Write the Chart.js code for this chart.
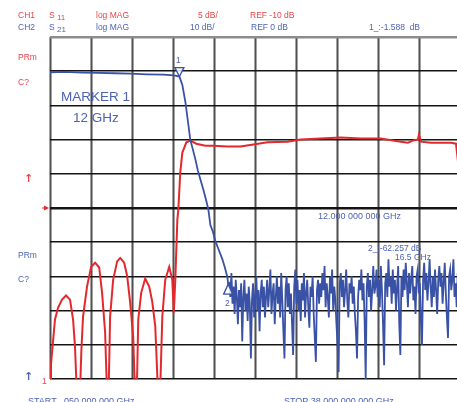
<!DOCTYPE html>
<html>
<head>
<meta charset="utf-8">
<script src="https://cdn.jsdelivr.net/npm/chart.js@4/dist/chart.umd.min.js"></script>
<style>
  html, body { margin:0; padding:0; overflow:hidden; background:#fff; }
  #wrap { position:relative; width:457px; height:402px; overflow:hidden; }
  #vna { position:absolute; left:0; top:0; }
  .t { position:absolute; font-family:"Liberation Sans", Arial, sans-serif; font-size:8.5px; line-height:10px; white-space:pre; }
  .r { color:#e8444a; }
  .b { color:#4d63b3; }
  .sub { font-size:8px; }
  .big { font-size:13.5px; line-height:16px; }
  .arr { font-family:"DejaVu Sans", sans-serif; font-size:11px; line-height:12px; font-weight:bold; }
</style>
</head>
<body>
<div id="wrap">
  <canvas id="vna" width="470" height="402"></canvas>

  <!-- header, channel 1 -->
  <span class="t r" style="left:18px;top:10px">CH1</span>
  <span class="t r" style="left:49px;top:10px">S</span>
  <span class="t r sub" style="left:57px;top:13px">11</span>
  <span class="t r" style="left:96px;top:10px">log MAG</span>
  <span class="t r" style="left:198px;top:10px">5 dB/</span>
  <span class="t r" style="left:250px;top:10px">REF -10 dB</span>
  <!-- header, channel 2 -->
  <span class="t b" style="left:18px;top:22px">CH2</span>
  <span class="t b" style="left:49px;top:22px">S</span>
  <span class="t b sub" style="left:57px;top:25px">21</span>
  <span class="t b" style="left:96px;top:22px">log MAG</span>
  <span class="t b" style="left:190px;top:22px">10 dB/</span>
  <span class="t b" style="left:251px;top:22px">REF 0 dB</span>
  <span class="t b" style="left:369px;top:22px">1_:-1.588  dB</span>

  <!-- left side -->
  <span class="t r" style="left:18px;top:52px">PRm</span>
  <span class="t r" style="left:18px;top:77px">C?</span>
  <span class="t r arr" style="left:24px;top:173px">↑</span>
  <span class="t b" style="left:18px;top:250px">PRm</span>
  <span class="t b" style="left:18px;top:274px">C?</span>
  <span class="t b arr" style="left:24px;top:371px">↑</span>
  <span class="t r" style="left:42px;top:376px">1</span>

  <!-- annotations -->
  <span class="t b big" style="left:61px;top:89px">MARKER 1</span>
  <span class="t b big" style="left:73px;top:110px">12 GHz</span>
  <span class="t b" style="left:176px;top:55px">1</span>
  <span class="t b" style="left:225px;top:298px">2</span>
  <span class="t b" style="left:318px;top:211px;font-size:9px">12.000 000 000 GHz</span>
  <span class="t b" style="left:368px;top:243px">2_:-62.257 dB</span>
  <span class="t b" style="left:395px;top:252px">16.5 GHz</span>

  <!-- footer -->
  <span class="t b" style="left:28px;top:396px;font-size:9px">START  .050 000 000 GHz</span>
  <span class="t b" style="left:284px;top:396px;font-size:9px">STOP 38.000 000 000 GHz</span>
</div>

<script>
// sweep
const START_GHZ = 0.05;
const STOP_GHZ  = 38;

const RED  = '#e3282e';
const BLUE = '#3a52a6';

// CH1 S11, 5 dB/div, REF -10 dB   [GHz, dB]
const s11 = [
  [0.05,-38],[0.14,-32.9],[0.24,-31.1],[0.51,-26.3],[0.79,-24.6],[1.16,-23.4],[1.53,-22.8],
  [1.9,-23.4],[2.18,-26.3],[2.36,-30.3],[2.55,-38],[2.8,-38],[2.95,-30.7],[3.1,-25.9],
  [3.47,-21.5],[3.85,-18.6],[4.22,-18.0],[4.59,-18.7],[4.86,-22.4],[5.14,-28.2],[5.33,-38],
  [5.45,-38],[5.6,-25.9],[5.88,-20.5],[6.25,-17.8],[6.53,-17.3],[6.9,-18.0],[7.18,-20.0],
  [7.45,-23.8],[7.73,-28.8],[7.92,-38],[8.05,-38],[8.2,-26.3],[8.47,-22.4],[8.84,-20.3],
  [9.21,-21.5],[9.49,-23.7],[9.77,-27.3],[10.05,-38],[10.2,-38],[10.42,-25.9],[10.69,-20.5],
  [11.06,-18.6],[11.34,-20.5],[11.48,-25.3],[11.62,-20.5],[11.81,-11.7],[11.9,-10.2],
  [12.08,-4.8],[12.27,-1.9],[12.64,-0.4],[13.01,-0.15],[13.56,-0.6],[14.4,-0.9],[15.14,-0.9],
  [16.43,-1.0],[17.64,-1.0],[18.84,-0.7],[20.13,-0.4],[21.99,-0.3],[23.19,0],[25.04,0.15],
  [26.9,0.3],[28.74,0.15],[30.6,0.15],[32.44,-0.3],[33.1,-0.45],[33.56,-0.15],[34.02,0],
  [34.11,0.7],[34.3,-0.3],[35.22,-0.45],[36.15,-0.45],[37.07,-0.45],[37.54,-0.6],
  [37.72,-3.2],[37.85,-5]
];

// CH2 S21, 10 dB/div, REF 0 dB   [GHz, dB]
const s21Pass = [
  [0.05,-0.3],[1.5,-0.2],[3,-0.4],[4.5,-0.5],[6,-0.6],[7.5,-0.7],[9,-0.9],[10.5,-1.0],
  [11.5,-1.2],[12.0,-1.588],[12.27,-4.0],[12.55,-9.0],[12.8,-15],[13.0,-20],[13.25,-23],
  [13.47,-25.7],[13.7,-29],[13.93,-31.6],[14.2,-34.5],[14.45,-37.5],[14.67,-40.4],[14.86,-45],
  [15.1,-47],[15.32,-49.7],[15.6,-52],[15.97,-55],[16.2,-57.5],[16.43,-60.2],[16.5,-62.257]
];
// stopband noise floor
const s21Floor = [
  [16.6,-62],[16.7,-66],[16.8,-59],[16.9,-68],[17.0,-63],[17.1,-71],[17.2,-61],[17.3,-66],
  [17.4,-74],[17.5,-64],[17.6,-69],[17.7,-62],[17.8,-79],[17.9,-66],[18.0,-61],[18.1,-70],
  [18.2,-65],[18.3,-73],[18.4,-63],[18.5,-68],[18.6,-84],[18.7,-67],[18.8,-62],[18.9,-72],
  [19.0,-66],[19.1,-60],[19.2,-70],[19.3,-64],[19.4,-76],[19.5,-65],[19.6,-61],[19.7,-69],
  [19.8,-63],[19.9,-72],[20.0,-66],
  [20.1,-61],[20.2,-69],[20.3,-64],[20.4,-58],[20.5,-71],[20.6,-65],[20.7,-62],[20.8,-74],
  [20.9,-66],[21.0,-60],[21.1,-68],[21.2,-63],[21.3,-72],[21.4,-59],[21.5,-67],[21.6,-76],
  [21.7,-84],[21.8,-64],[21.9,-60],[22.0,-69],[22.1,-62],[22.2,-71],[22.3,-65],[22.4,-74],
  [22.5,-83],[22.6,-63],[22.7,-58],[22.8,-68],[22.9,-61],[23.0,-70],[23.1,-64],[23.2,-73],
  [23.3,-62],[23.4,-67],[23.5,-59],[23.6,-72],[23.7,-65],[23.8,-61],[23.9,-69],[24.0,-75],
  [24.1,-63],[24.2,-66],[24.3,-60],[24.4,-71],[24.5,-78],[24.6,-85],[24.7,-64],[24.8,-61],
  [24.9,-68],[25.0,-62],
  [25.1,-66],[25.2,-59],[25.3,-64],[25.4,-57],[25.5,-69],[25.6,-62],[25.7,-66],[25.8,-72],
  [25.9,-60],[26.0,-65],[26.1,-58],[26.2,-70],[26.3,-63],[26.4,-67],[26.5,-74],[26.6,-80],
  [26.7,-88],[26.8,-62],[26.9,-59],[27.0,-66],[27.1,-61],[27.2,-69],[27.3,-64],[27.4,-58],
  [27.5,-67],[27.6,-72],[27.7,-62],[27.8,-65],[27.9,-60],[28.0,-68],[28.1,-63],[28.2,-71],
  [28.3,-76],[28.4,-84],[28.5,-66],[28.6,-61],[28.7,-64],[28.8,-58],[28.9,-67],[29.0,-62],
  [29.1,-73],[29.2,-90],[29.3,-63],[29.4,-59],[29.5,-66],[29.6,-61],[29.7,-70],[29.8,-64],
  [29.9,-57],[30.0,-65],
  [30.1,-63],[30.2,-58],[30.3,-66],[30.4,-61],[30.5,-69],[30.6,-57],[30.7,-64],[30.8,-74],
  [30.9,-86],[31.0,-62],[31.1,-59],[31.2,-66],[31.3,-55],[31.4,-63],[31.5,-60],[31.6,-68],
  [31.7,-58],[31.8,-65],[31.9,-61],[32.0,-70],[32.1,-63],[32.2,-57],[32.3,-74],[32.4,-83],
  [32.5,-60],[32.6,-66],[32.7,-58],[32.8,-64],[32.9,-56],[33.0,-62],[33.1,-69],[33.2,-59],
  [33.3,-65],[33.4,-61],[33.5,-57],[33.6,-67],[33.7,-63],[33.8,-71],[33.9,-60],[34.0,-58],
  [34.1,-65],[34.2,-62],[34.3,-73],[34.4,-80],[34.5,-61],[34.6,-56],[34.7,-64],[34.8,-59],
  [34.9,-67],[35.0,-62],[35.1,-55],[35.2,-63],[35.3,-69],[35.4,-60],[35.5,-66],[35.6,-58],
  [35.7,-64],[35.8,-71],[35.9,-61],[36.0,-57],[36.1,-63],[36.2,-59],[36.3,-68],[36.4,-62],
  [36.5,-56],[36.6,-65],[36.7,-72],[36.8,-78],[36.9,-60],[37.0,-58],[37.1,-64],[37.2,-61],
  [37.3,-55],[37.4,-66],[37.5,-62],[37.6,-69],[37.7,-59],[37.8,-63],[37.9,-57],[38.0,-61]
];

// markers on CH2
const markers = [
  { label:'1', freq:12.0, db:-1.588, down:true },
  { label:'2', freq:16.5, db:-62.257, down:false }
];
const CH1_REF_DB = -10;

const toXY = pts => pts.map(([f, d]) => ({ x:f, y:d }));

// 10 divisions across the sweep
function divisionTicks(axis) {
  const step = (STOP_GHZ - START_GHZ) / 10;
  axis.ticks = Array.from({ length:11 }, (_, i) => ({ value: START_GHZ + i*step }));
}

// marker triangles + ch1 reference arrow
const overlay = {
  id: 'overlay',
  afterDatasetsDraw(chart) {
    const { ctx, scales:{ x, y, y2 }, chartArea } = chart;
    ctx.save();
    ctx.strokeStyle = BLUE;
    ctx.lineWidth = 1.3;
    markers.forEach(m => {
      const px = x.getPixelForValue(m.freq), py = y.getPixelForValue(m.db);
      const h = m.down ? -9 : 10;
      ctx.fillStyle = 'rgba(255,255,255,0.85)';
      ctx.beginPath();
      ctx.moveTo(px, py);
      ctx.lineTo(px - 4.5, py + h);
      ctx.lineTo(px + 4.5, py + h);
      ctx.closePath();
      ctx.fill();
      ctx.stroke();
    });
    // ref position arrow for CH1
    const ry = y2.getPixelForValue(CH1_REF_DB);
    ctx.fillStyle = RED;
    ctx.beginPath();
    ctx.moveTo(chartArea.left - 1, ry);
    ctx.lineTo(chartArea.left - 6, ry - 2.5);
    ctx.lineTo(chartArea.left - 6, ry + 2.5);
    ctx.closePath();
    ctx.fill();
    ctx.fillRect(chartArea.left - 8, ry - 0.5, 3, 1);
    ctx.restore();
  }
};

new Chart(document.getElementById('vna'), {
  type: 'line',
  data: {
    datasets: [
      { label:'S21', data: toXY(s21Pass.concat(s21Floor)), xAxisID:'x', yAxisID:'y',
        borderColor: BLUE, borderWidth: 1.8, pointRadius: 0, tension: 0 },
      { label:'S11', data: toXY(s11), xAxisID:'x', yAxisID:'y2',
        borderColor: RED, borderWidth: 2, pointRadius: 0, tension: 0 }
    ]
  },
  options: {
    responsive: false,
    animation: false,
    events: [],
    layout: { padding: { left:50, top:37, right:9, bottom:23 } },
    plugins: { legend:{ display:false }, tooltip:{ enabled:false } },
    scales: {
      x: {
        type:'linear', min:START_GHZ, max:STOP_GHZ,
        afterBuildTicks: divisionTicks,
        afterFit: s => { s.height = 0; },
        ticks:{ display:false }, border:{ display:false },
        grid:{ color:'#a3a3a3', lineWidth:3, drawTicks:false }
      },
      x2: {
        type:'linear', min:START_GHZ, max:STOP_GHZ,
        afterBuildTicks: divisionTicks,
        afterFit: s => { s.height = 0; },
        ticks:{ display:false }, border:{ display:false },
        grid:{ color:'#505050', lineWidth:1, drawTicks:false }
      },
      y: {
        min:-90, max:10,
        afterFit: s => { s.width = 0; },
        ticks:{ display:false, stepSize:10 }, border:{ display:false },
        grid:{
          drawTicks:false,
          color: c => c.tick && c.tick.value === 10 ? '#8c8c8c' : '#141414',
          lineWidth: c => !c.tick ? 1.5 : c.tick.value === -40 ? 2.6 : c.tick.value === 10 ? 2.4 : 1.5
        }
      },
      y2: {
        position:'right', min:-35, max:15,
        afterFit: s => { s.width = 0; },
        ticks:{ display:false }, border:{ display:false },
        grid:{ display:false }
      }
    }
  },
  plugins: [overlay]
});
</script>
</body>
</html>
